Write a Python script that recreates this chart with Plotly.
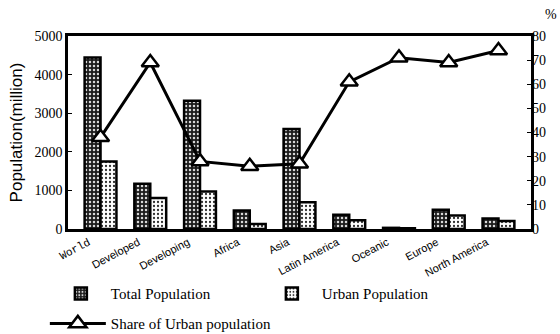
import plotly.graph_objects as go

# Regions / groupings on the category axis
regions = ["World", "Developed", "Developing", "Africa", "Asia",
           "Latin America", "Oceanic", "Europe", "North America"]

# Population in millions
total_pop = [4440, 1170, 3320, 480, 2590, 370, 30, 500, 270]
urban_pop = [1750, 800, 970, 130, 690, 225, 20, 350, 210]

# Share of urban population, %
urban_share = [38, 69, 28, 26, 27, 61, 71, 69, 74]

left_ticks = [0, 1000, 2000, 3000, 4000, 5000]
right_ticks = [0, 10, 20, 30, 40, 50, 60, 70, 80]

tick_text = ['<span style="font-family:Liberation Mono">World</span>'] + regions[1:]

SERIF = "Liberation Serif, Times New Roman, serif"
SANS = "Liberation Sans, Arial, sans-serif"

fig = go.Figure()

fig.add_trace(go.Bar(
    x=regions, y=total_pop, name="Total Population", legend="legend",
    marker=dict(
        color="#1c1c1c",
        line=dict(color="black", width=2.5),
        pattern=dict(shape=".", fillmode="replace", bgcolor="#1c1c1c",
                     fgcolor="#d8d8d8", size=4, solidity=0.3),
    ),
))

fig.add_trace(go.Bar(
    x=regions, y=urban_pop, name="Urban Population", legend="legend",
    marker=dict(
        color="white",
        line=dict(color="black", width=2.5),
        pattern=dict(shape=".", fillmode="replace", bgcolor="white",
                     fgcolor="#303030", size=4, solidity=0.25),
    ),
))

fig.add_trace(go.Scatter(
    x=regions, y=urban_share, name="Share of Urban population",
    yaxis="y2", mode="lines+markers", legend="legend2",
    line=dict(color="black", width=3),
    marker=dict(symbol="triangle-up", size=15, color="white",
                line=dict(color="black", width=2.5)),
))

fig.update_layout(
    width=560, height=334,
    margin=dict(l=68, r=29, t=36, b=105, autoexpand=False),
    paper_bgcolor="white", plot_bgcolor="white",
    barmode="group", bargap=0.36, bargroupgap=0,
    font=dict(family=SERIF, size=14, color="black"),
    xaxis=dict(
        tickvals=regions, ticktext=tick_text, tickangle=-28,
        tickfont=dict(family=SANS, size=11),
        ticks="", showline=True, linecolor="black", linewidth=2.5,
        mirror=True, ticklabelshift=-12, automargin=False,
    ),
    yaxis=dict(
        range=[0, 5000], tickvals=left_ticks,
        ticks="inside", ticklen=4, tickcolor="black",
        tickfont=dict(family=SERIF, size=14),
        showline=True, linecolor="black", linewidth=2.5, mirror=True,
        showgrid=False, zeroline=False, automargin=False,
        title=dict(text="Population(million)", font=dict(family=SANS, size=17),
                   standoff=8),
    ),
    yaxis2=dict(
        range=[0, 80], tickvals=right_ticks, overlaying="y", side="right",
        ticks="inside", ticklen=4, tickcolor="black",
        tickfont=dict(family=SERIF, size=14), automargin=False,
        showgrid=False, zeroline=False, showline=False,
    ),
    legend=dict(
        orientation="h", x=-0.037, xanchor="left", y=-0.25, yanchor="top",
        font=dict(family=SERIF, size=15), itemwidth=50,
        entrywidth=146, traceorder="normal", bgcolor="rgba(0,0,0,0)",
    ),
    legend2=dict(
        orientation="h", x=-0.05, xanchor="left", y=-0.405, yanchor="top",
        font=dict(family=SERIF, size=15), itemwidth=56,
        bgcolor="rgba(0,0,0,0)",
    ),
    annotations=[dict(text="%", xref="paper", yref="paper", x=1.025, y=1.06,
                      xanchor="left", yanchor="bottom", showarrow=False,
                      font=dict(family=SERIF, size=14))],
)

fig.write_html("out.html")
